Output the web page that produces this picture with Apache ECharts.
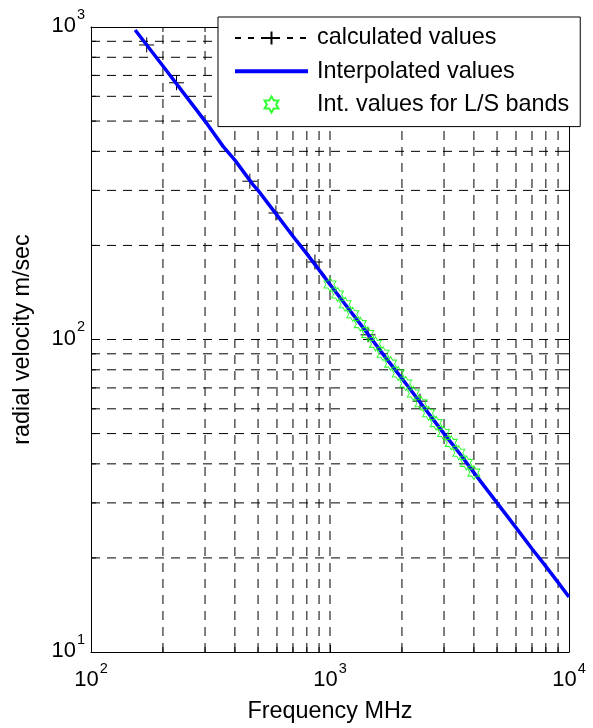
<!DOCTYPE html>
<html><head><meta charset="utf-8">
<script src="https://cdn.jsdelivr.net/npm/echarts@6/dist/echarts.min.js"></script>
<style>html,body{margin:0;padding:0;background:#fff}#c{width:593px;height:728px}</style>
</head><body><div id="c"></div>
<script>
// ---- data ----
const calcF = [171, 228, 462, 594, 865, 1443, 2381];
const calcV = [876, 663, 321, 254, 177, 103.5, 63.5];

const interpF = [153, 200, 250, 300, 357, 400, 476, 500, 600, 700, 800, 900, 1000, 1200, 1443, 1700, 2000, 2381, 3000, 3500, 4000, 5000, 6000, 7000, 8000, 9000, 10000];
const interpV = [978, 750, 600, 500, 415, 375, 313, 300, 250, 214, 188, 167, 150, 125, 104, 88, 75, 63, 50, 43, 37.5, 30, 25, 21.4, 18.8, 16.7, 15];

const starF = [1000, 1076, 1157, 1245, 1339, 1440, 1549, 1667, 1793, 1929, 2075, 2232, 2401, 2583, 2779, 2989, 3215, 3459, 3721, 4000];
const starV = [150, 139.4, 129.6, 120.5, 112.0, 104.2, 96.8, 90.0, 83.7, 77.8, 72.3, 67.2, 62.5, 58.1, 54.0, 50.2, 46.7, 43.4, 40.3, 37.5];

const xTickValues = [100, 1000, 10000];
const xTickExp = ['2', '3', '4'];
const yTickValues = [10, 100, 1000];
const yTickExp = ['1', '2', '3'];

const xGridMinor = [200, 300, 400, 500, 600, 700, 800, 900, 2000, 3000, 4000, 5000, 6000, 7000, 8000, 9000];
const xGridMajor = [1000];
const yGridMinor = [20, 30, 40, 50, 60, 70, 80, 90, 200, 300, 400, 500, 600, 700, 800, 900];
const yGridMajor = [100];

const seriesNames = ['calculated values', 'Interpolated values', 'Int. values for L/S bands'];
const xName = 'Frequency MHz';
const yName = 'radial velocity m/sec';

// ---- chart ----
const FONT = 'Liberation Sans, Arial, sans-serif';
const xMin = 100, xMax = 10000, yMin = 10, yMax = 1000;
const DASH = [9, 7];
const MINOR_LEN = 5;

const plusPath = 'path://M5,0L5,10M0,5L10,5';
const hexPath = 'path://M0,-10L2.887,-5L8.66,-5L5.77,0L8.66,5L2.887,5L0,10L-2.887,5L-8.66,5L-5.77,0L-8.66,-5L-2.887,-5Z';

function zip(a, b) { return a.map((v, i) => [v, b[i]]); }

function labelFmt(values, exps) {
  return function (v) {
    const e = Math.round(Math.log10(v));
    const i = values.indexOf(Math.pow(10, e));
    return i < 0 ? '' : '{b|10}{s|' + exps[i] + '}';
  };
}
const rich = {
  b: {fontSize: 22, fontFamily: FONT, color: '#000', lineHeight: 30, verticalAlign: 'bottom'},
  s: {fontSize: 14.5, fontFamily: FONT, color: '#000', lineHeight: 14, verticalAlign: 'top', padding: [0, 0, 0, 1]}
};

function gridX(params, api) {
  const v = api.value(0);
  const major = api.value(2);
  const pb = api.coord([v, yMin]);
  const pt = api.coord([v, yMax]);
  const ch = [{type: 'line', shape: {x1: pb[0], y1: pb[1], x2: pt[0], y2: pt[1]},
    style: {stroke: '#000', lineWidth: 1, lineDash: DASH}}];
  if (!major) {
    ch.push({type: 'line', shape: {x1: pb[0], y1: pb[1], x2: pb[0], y2: pb[1] - MINOR_LEN}, style: {stroke: '#000', lineWidth: 1}});
    ch.push({type: 'line', shape: {x1: pt[0], y1: pt[1], x2: pt[0], y2: pt[1] + MINOR_LEN}, style: {stroke: '#000', lineWidth: 1}});
  }
  return {type: 'group', children: ch};
}
function gridY(params, api) {
  const v = api.value(1);
  const major = api.value(2);
  const pl = api.coord([xMin, v]);
  const pr = api.coord([xMax, v]);
  const ch = [{type: 'line', shape: {x1: pl[0], y1: pl[1], x2: pr[0], y2: pr[1]},
    style: {stroke: '#000', lineWidth: 1, lineDash: DASH}}];
  if (!major) {
    ch.push({type: 'line', shape: {x1: pl[0], y1: pl[1], x2: pl[0] + MINOR_LEN, y2: pl[1]}, style: {stroke: '#000', lineWidth: 1}});
    ch.push({type: 'line', shape: {x1: pr[0], y1: pr[1], x2: pr[0] - MINOR_LEN, y2: pr[1]}, style: {stroke: '#000', lineWidth: 1}});
  }
  return {type: 'group', children: ch};
}

const xGridData = xGridMinor.map(v => [v, yMin, 0]).concat(xGridMajor.map(v => [v, yMin, 1]));
const yGridData = yGridMinor.map(v => [xMin, v, 0]).concat(yGridMajor.map(v => [xMin, v, 1]));

const baseX = {type: 'log', logBase: 10, min: xMin, max: xMax,
  axisLine: {show: true, onZero: false, lineStyle: {color: '#000', width: 1}},
  axisTick: {show: true, inside: true, length: 7, lineStyle: {color: '#000'}},
  splitLine: {show: false}, minorTick: {show: false}};
const baseY = {type: 'log', logBase: 10, min: yMin, max: yMax,
  axisLine: {show: true, onZero: false, lineStyle: {color: '#000', width: 1}},
  axisTick: {show: true, inside: true, length: 7, lineStyle: {color: '#000'}},
  splitLine: {show: false}, minorTick: {show: false}};

const option = {
  animation: false,
  backgroundColor: '#fff',
  grid: {left: 91, right: 24, top: 27, bottom: 76, containLabel: false},
  xAxis: [
    Object.assign({}, baseX, {position: 'bottom',
      name: xName, nameLocation: 'middle', nameGap: 48,
      nameTextStyle: {fontSize: 23.4, fontFamily: FONT, color: '#000'},
      axisLabel: {show: true, margin: 9, formatter: labelFmt(xTickValues, xTickExp), rich: rich, showMinLabel: true, showMaxLabel: true}}),
    Object.assign({}, baseX, {position: 'top', axisLabel: {show: false}})
  ],
  yAxis: [
    Object.assign({}, baseY, {position: 'left',
      name: yName, nameLocation: 'middle', nameGap: 57,
      nameTextStyle: {fontSize: 23.4, fontFamily: FONT, color: '#000'},
      axisLabel: {show: true, margin: 6, padding: [0, 0, 10, 0], formatter: labelFmt(yTickValues, yTickExp), rich: rich, showMinLabel: true, showMaxLabel: true}}),
    Object.assign({}, baseY, {position: 'right', axisLabel: {show: false}})
  ],
  legend: {
    left: 218, top: 17, orient: 'vertical',
    backgroundColor: '#fff', borderColor: '#000', borderWidth: 1, borderRadius: 0,
    padding: [9, 11, 10, 15],
    itemWidth: 73, itemHeight: 16, itemGap: 9.3,
    selectedMode: false,
    textStyle: {fontSize: 23.4, fontFamily: FONT, color: '#000', lineHeight: 24, padding: [0, 0, 0, 4]},
    data: [
      {name: seriesNames[0]},
      {name: seriesNames[1], itemStyle: {opacity: 0}, lineStyle: {width: 4}},
      {name: seriesNames[2]}
    ]
  },
  series: [
    {type: 'custom', silent: true, z: 1, renderItem: gridX, data: xGridData, encode: {x: 0, y: 1}, clip: false},
    {type: 'custom', silent: true, z: 1, renderItem: gridY, data: yGridData, encode: {x: 0, y: 1}, clip: false},
    {name: seriesNames[0], type: 'line', z: 2, data: zip(calcF, calcV),
      lineStyle: {color: '#000', width: 1, type: [6, 7]},
      symbol: plusPath, symbolSize: 15, showSymbol: true,
      itemStyle: {color: 'none', borderColor: '#000', borderWidth: 1}},
    {name: seriesNames[1], type: 'line', z: 3, data: zip(interpF, interpV),
      lineStyle: {color: '#0000ff', width: 3.5}, itemStyle: {color: '#0000ff'},
      symbol: 'none', showSymbol: false},
    {name: seriesNames[2], type: 'scatter', z: 4, data: zip(starF, starV),
      symbol: hexPath, symbolSize: [12, 14], symbolKeepAspect: false,
      itemStyle: {color: 'none', borderColor: '#00ff00', borderWidth: 1}}
  ]
};
const chart = echarts.init(document.getElementById('c'), null, {renderer: 'canvas'});
chart.setOption(option);
</script></body></html>
